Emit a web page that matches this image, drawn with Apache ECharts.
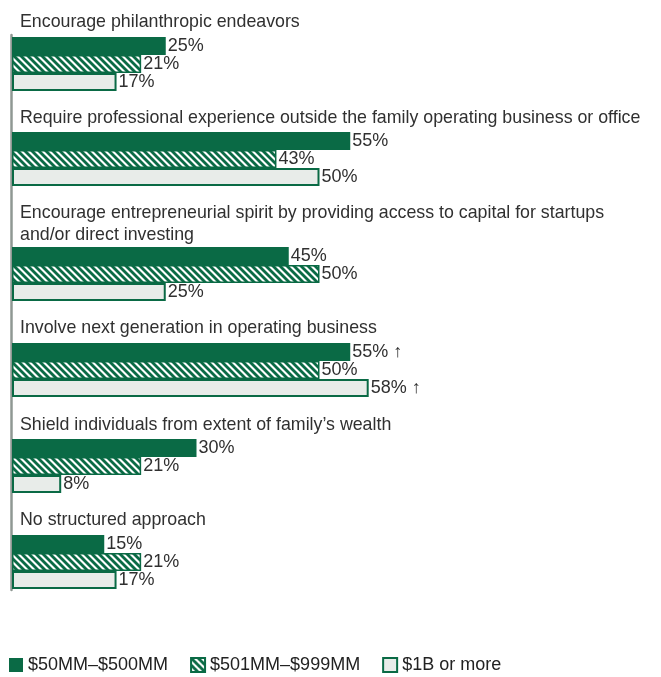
<!DOCTYPE html>
<html><head><meta charset="utf-8">
<script src="https://cdn.jsdelivr.net/npm/echarts@6/dist/echarts.min.js"></script>
<style>html,body{margin:0;padding:0;background:#fff}#c{width:661px;height:677px}</style>
</head><body><div id="c"></div>
<script>
const categories = [
  'Encourage philanthropic endeavors',
  'Require professional experience outside the family operating business or office',
  'Encourage entrepreneurial spirit by providing access to capital for startups\nand/or direct investing',
  'Involve next generation in operating business',
  "Shield individuals from extent of family’s wealth",
  'No structured approach'
];
const seriesNames = ['$50MM–$500MM', '$501MM–$999MM', '$1B or more'];
const v50to500  = [25, 55, 45, 55, 30, 15];
const v501to999 = [21, 43, 50, 50, 21, 21];
const v1bPlus   = [17, 50, 25, 58, 8, 17];
const up50to500  = [false, false, false, true, false, false];
const up501to999 = [false, false, false, false, false, false];
const up1bPlus   = [false, false, false, true, false, false];

const GREEN = '#0a6a45';
const LIGHT = '#e8ece9';
const TEXT = '#303030';
const FONT = "'Liberation Sans', Arial, sans-serif";

function hatch() {
  const s = 7;
  const c = document.createElement('canvas');
  c.width = s; c.height = s;
  const g = c.getContext('2d');
  g.fillStyle = '#fff'; g.fillRect(0, 0, s, s);
  g.strokeStyle = GREEN; g.lineWidth = 2.8;
  for (const k of [-s, 0, s]) {
    g.beginPath(); g.moveTo(k - 1, -1); g.lineTo(k + s + 1, s + 1); g.stroke();
  }
  return c;
}
const hatchCanvas = hatch();

// layout (pixels)
const titleCenters = [22, 118, 213, 328, 425, 520];
const barTops = [37, 132, 247, 343, 439, 535];
const BAR_H = 18;

const values = [v50to500, v501to999, v1bPlus];
const arrows = [up50to500, up501to999, up1bPlus];
const styles = [
  { color: GREEN },
  { color: { image: hatchCanvas, repeat: 'repeat' }, borderColor: GREEN, borderWidth: 1.5 },
  { color: LIGHT, borderColor: GREEN, borderWidth: 2 }
];

const grids = [], xAxes = [], yAxes = [], series = [], titles = [];
categories.forEach((cat, i) => {
  grids.push({ left: 12, width: 615, top: barTops[i], height: BAR_H * 3 });
  xAxes.push({ gridIndex: i, type: 'value', min: 0, max: 100, show: false });
  yAxes.push({ gridIndex: i, type: 'category', data: [cat], inverse: true, show: false });
  titles.push({
    text: cat, left: 20, top: titleCenters[i] - 11, padding: 0,
    textStyle: { fontSize: 17.8, fontWeight: 'normal', color: TEXT, lineHeight: 22, fontFamily: FONT }
  });
  for (let s = 0; s < 3; s++) {
    const up = arrows[s][i];
    series.push({
      name: seriesNames[s], type: 'bar', xAxisIndex: i, yAxisIndex: i,
      data: [values[s][i]], barWidth: BAR_H, barGap: 0, barCategoryGap: 0,
      itemStyle: styles[s],
      label: {
        show: true, position: 'right', distance: 2,
        color: TEXT, fontSize: 18, fontFamily: FONT,
        formatter: (p) => p.value + '%' + (up ? ' ↑' : '')
      },
      emphasis: { disabled: true }, animation: false
    });
  }
});
// vertical baseline spanning all groups
grids.push({ left: 11, width: 1, top: 35, height: 555 });
xAxes.push({ gridIndex: 6, type: 'value', show: false });
yAxes.push({ gridIndex: 6, type: 'value', axisLine: { show: true, lineStyle: { color: '#8f9893', width: 2.5 } },
  axisLabel: { show: false }, axisTick: { show: false }, splitLine: { show: false } });

const chart = echarts.init(document.getElementById('c'), null, { renderer: 'canvas' });
chart.setOption({
  animation: false,
  textStyle: { fontFamily: FONT },
  title: titles,
  grid: grids, xAxis: xAxes, yAxis: yAxes, series: series,
  legend: {
    data: seriesNames, left: 9, top: 656, padding: 0, icon: 'rect', itemWidth: 14, itemHeight: 14, itemGap: 22,
    selectedMode: false,
    textStyle: { fontSize: 18, color: '#222', fontFamily: FONT }
  }
});
</script></body></html>
